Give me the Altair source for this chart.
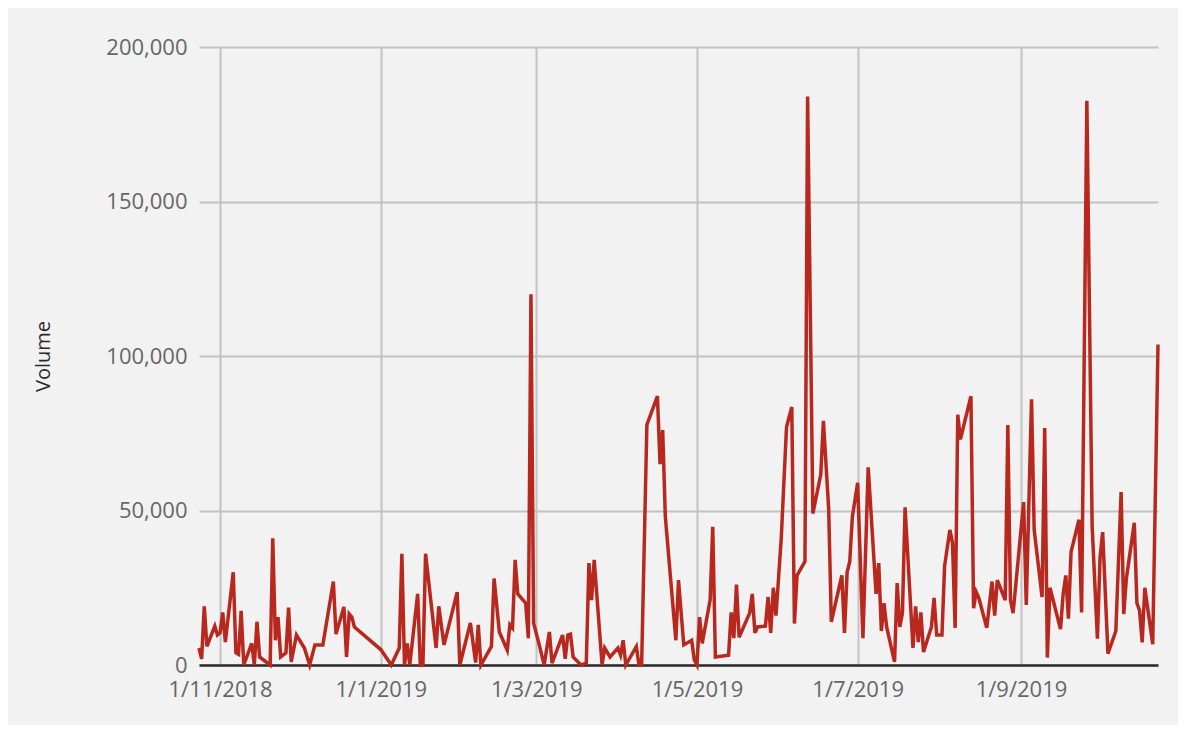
import altair as alt
import pandas as pd

dates = [
    "2018-10-24", "2018-10-25", "2018-10-26", "2018-10-27", "2018-10-30", "2018-10-31",
    "2018-11-01", "2018-11-02", "2018-11-03", "2018-11-06", "2018-11-07", "2018-11-08",
    "2018-11-09", "2018-11-10", "2018-11-13", "2018-11-14", "2018-11-15", "2018-11-16",
    "2018-11-20", "2018-11-21", "2018-11-22", "2018-11-23", "2018-11-24", "2018-11-26",
    "2018-11-27", "2018-11-28", "2018-11-30", "2018-12-03", "2018-12-05", "2018-12-07",
    "2018-12-10", "2018-12-14", "2018-12-15", "2018-12-18", "2018-12-19", "2018-12-20",
    "2018-12-21", "2018-12-22", "2019-01-01", "2019-01-05", "2019-01-08", "2019-01-09",
    "2019-01-10", "2019-01-11", "2019-01-12", "2019-01-15", "2019-01-16", "2019-01-17",
    "2019-01-18", "2019-01-22", "2019-01-23", "2019-01-25", "2019-01-30", "2019-01-31",
    "2019-02-04", "2019-02-06", "2019-02-07", "2019-02-08", "2019-02-12", "2019-02-13",
    "2019-02-15", "2019-02-18", "2019-02-19", "2019-02-20", "2019-02-21", "2019-02-22",
    "2019-02-25", "2019-02-26", "2019-02-27", "2019-02-28", "2019-03-02", "2019-03-04",
    "2019-03-06", "2019-03-07", "2019-03-11", "2019-03-12", "2019-03-13", "2019-03-14",
    "2019-03-15", "2019-03-18", "2019-03-20", "2019-03-21", "2019-03-22", "2019-03-23",
    "2019-03-26", "2019-03-27", "2019-03-29", "2019-04-01", "2019-04-02", "2019-04-03",
    "2019-04-04", "2019-04-08", "2019-04-09", "2019-04-10", "2019-04-12", "2019-04-16",
    "2019-04-17", "2019-04-18", "2019-04-19", "2019-04-23", "2019-04-24", "2019-04-26",
    "2019-04-29", "2019-04-30", "2019-05-01", "2019-05-02", "2019-05-03", "2019-05-06",
    "2019-05-07", "2019-05-08", "2019-05-13", "2019-05-14", "2019-05-15", "2019-05-16",
    "2019-05-17", "2019-05-21", "2019-05-22", "2019-05-23", "2019-05-24", "2019-05-27",
    "2019-05-28", "2019-05-29", "2019-05-30", "2019-05-31", "2019-06-02", "2019-06-04",
    "2019-06-06", "2019-06-07", "2019-06-08", "2019-06-11", "2019-06-12", "2019-06-14",
    "2019-06-17", "2019-06-18", "2019-06-20", "2019-06-21", "2019-06-25", "2019-06-26",
    "2019-06-27", "2019-06-28", "2019-06-29", "2019-07-01", "2019-07-03", "2019-07-05",
    "2019-07-08", "2019-07-09", "2019-07-10", "2019-07-11", "2019-07-12", "2019-07-15",
    "2019-07-16", "2019-07-17", "2019-07-18", "2019-07-19", "2019-07-22", "2019-07-23",
    "2019-07-24", "2019-07-25", "2019-07-26", "2019-07-29", "2019-07-30", "2019-07-31",
    "2019-08-02", "2019-08-03", "2019-08-05", "2019-08-06", "2019-08-07", "2019-08-08",
    "2019-08-09", "2019-08-13", "2019-08-14", "2019-08-15", "2019-08-16", "2019-08-19",
    "2019-08-21", "2019-08-22", "2019-08-23", "2019-08-26", "2019-08-27", "2019-08-28",
    "2019-08-29", "2019-09-02", "2019-09-03", "2019-09-05", "2019-09-06", "2019-09-09",
    "2019-09-10", "2019-09-11", "2019-09-12", "2019-09-16", "2019-09-17", "2019-09-18",
    "2019-09-19", "2019-09-20", "2019-09-23", "2019-09-24", "2019-09-26", "2019-09-28",
    "2019-09-30", "2019-10-01", "2019-10-02", "2019-10-04", "2019-10-07", "2019-10-09",
    "2019-10-10", "2019-10-11", "2019-10-14", "2019-10-15", "2019-10-16", "2019-10-17",
    "2019-10-18", "2019-10-21", "2019-10-23",
]

volumes = [
    5500, 2000, 19000, 6000, 12600, 9700,
    10400, 17000, 7400, 30000, 4000, 3500,
    17500, 0, 7000, 0, 14000, 2600,
    0, 41000, 8000, 15500, 2600, 3900,
    18600, 1000, 9700, 5500, 0, 6500,
    6500, 27000, 10000, 18800, 2600, 16500,
    15500, 12300, 5000, 0, 5500, 36000,
    0, 7000, 0, 23000, 0, 0,
    36000, 5500, 19000, 6500, 23600, 0,
    13600, 800, 13000, 0, 6000, 28000,
    10700, 4800, 13000, 12000, 34000, 23000,
    20000, 8700, 120000, 13600, 7000, 0,
    10700, 600, 9700, 2000, 9700, 10000,
    2600, 0, 600, 33000, 21000, 34000,
    0, 5500, 2600, 5500, 3200, 8000,
    0, 6000, 0, 0, 77700, 87000,
    65000, 76000, 48000, 8000, 27500, 6500,
    8000, 1600, 0, 15500, 7000, 21000,
    44700, 2600, 3200, 17000, 8700, 26000,
    9000, 16800, 23000, 10400, 12300, 12600,
    22000, 10400, 25000, 16000, 41000, 77000,
    83500, 13400, 29000, 33500, 184000, 49000,
    61600, 79000, 50600, 14000, 29000, 10400,
    30000, 33500, 48000, 59000, 8700, 64000,
    23000, 33000, 11000, 20000, 12300, 1000,
    26500, 12300, 16800, 51000, 5500, 19000,
    7400, 17000, 4200, 12300, 21700, 9700,
    9700, 32000, 43700, 39500, 12000, 81000,
    73000, 87000, 18400, 23600, 21700, 12000,
    27000, 16000, 27500, 21000, 77700, 21000,
    16800, 52700, 19400, 86000, 43700, 22000,
    76700, 2400, 25000, 11600, 23000, 29000,
    15000, 36600, 47000, 17000, 182600, 45000,
    8500, 34800, 43000, 3700, 11000, 56000,
    16500, 28000, 46000, 20000, 17700, 7300,
    25000, 6700, 103700,
]

tick_dates = [(2018, 11), (2019, 1), (2019, 3), (2019, 5), (2019, 7), (2019, 9)]
y_ticks = [0, 50000, 100000, 150000, 200000]

df = pd.DataFrame({"date": dates, "volume": volumes})

FONT = "Open Sans"

chart = (
    alt.Chart(df)
    .mark_line(color="#b9281f", strokeWidth=3.5)
    .encode(
        x=alt.X(
            "date:T",
            scale=alt.Scale(type="utc", nice=False),
            axis=alt.Axis(
                title=None,
                values=[alt.DateTime(year=y, month=m, date=1, utc=True) for y, m in tick_dates],
                labelExpr="utcFormat(datum.value, '%-d/%-m/%Y')",
                grid=True,
                gridColor="#c2c2c2",
                gridWidth=2,
                domain=True,
                domainColor="#2b2b2b",
                domainWidth=2.5,
                ticks=False,
                labelColor="#666666",
                labelFontSize=22,
                labelFont=FONT,
                labelPadding=14,
                labelOverlap=False,
            ),
        ),
        y=alt.Y(
            "volume:Q",
            scale=alt.Scale(domain=[0, 200000], nice=False),
            axis=alt.Axis(
                title="Volume",
                values=y_ticks,
                format=",.0f",
                grid=True,
                gridColor="#c2c2c2",
                gridWidth=2,
                domain=False,
                ticks=False,
                labelColor="#666666",
                labelFontSize=22,
                labelFont=FONT,
                labelPadding=12,
                titleColor="#2b2b2b",
                titleFontSize=20,
                titleFont=FONT,
                titleFontWeight="normal",
                titleX=-146,
                titleY=309,
            ),
        ),
    )
    .properties(
        width=959,
        height=618,
        background="#f2f2f2",
        autosize=alt.AutoSizeParams(type="none"),
        padding={"left": 191, "top": 39, "right": 20, "bottom": 60},
    )
    .configure_view(stroke=None)
)

chart.save("out.html", embed_options={"renderer": "svg", "actions": False})
